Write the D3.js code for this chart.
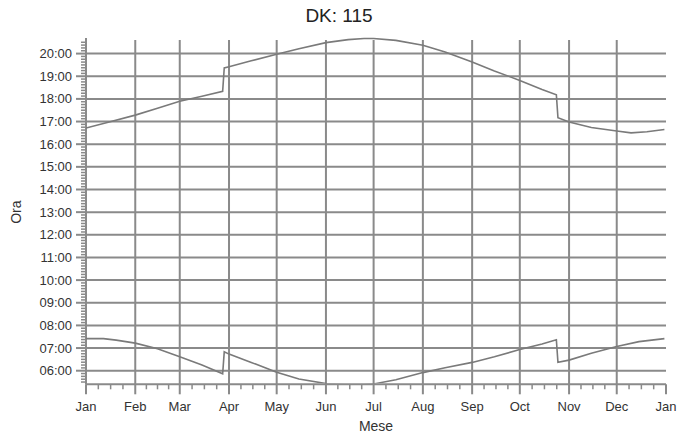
<!DOCTYPE html>
<html><head><meta charset="utf-8">
<script src="https://cdn.jsdelivr.net/npm/d3@7"></script>
<style>
html,body{margin:0;padding:0;background:#fff;}
text{font-family:"Liberation Sans",Arial,sans-serif;}
</style></head>
<body>
<svg id="chart" width="679" height="439"></svg>
<script>
const title = "DK: 115";
const xLabel = "Mese";
const yLabel = "Ora";
const monthLabels = ["Jan","Feb","Mar","Apr","May","Jun","Jul","Aug","Sep","Oct","Nov","Dec","Jan"];
const hourTicks = ["06:00","07:00","08:00","09:00","10:00","11:00","12:00","13:00","14:00","15:00","16:00","17:00","18:00","19:00","20:00"];

const sunsetDates = ["2009-01-01","2009-01-15","2009-02-01","2009-02-15","2009-03-01","2009-03-15","2009-03-28","2009-03-29","2009-04-01","2009-04-15","2009-05-01","2009-05-15","2009-06-01","2009-06-15","2009-06-25","2009-07-01","2009-07-15","2009-08-01","2009-08-15","2009-09-01","2009-09-15","2009-10-01","2009-10-15","2009-10-24","2009-10-25","2009-11-01","2009-11-15","2009-12-01","2009-12-10","2009-12-20","2009-12-31"];
const sunsetTimes = ["16:43","16:58","17:17","17:35","17:54","18:07","18:20","19:22","19:25","19:41","19:58","20:13","20:29","20:37","20:40","20:40","20:35","20:22","20:04","19:38","19:14","18:49","18:25","18:11","17:10","16:59","16:44","16:35","16:30","16:33","16:39"];

const sunriseDates = ["2009-01-01","2009-01-12","2009-01-20","2009-02-01","2009-02-15","2009-03-01","2009-03-15","2009-03-28","2009-03-29","2009-04-01","2009-04-15","2009-05-01","2009-05-15","2009-06-01","2009-06-15","2009-06-25","2009-07-01","2009-07-15","2009-08-01","2009-08-15","2009-09-01","2009-09-15","2009-10-01","2009-10-15","2009-10-24","2009-10-25","2009-11-01","2009-11-15","2009-12-01","2009-12-15","2009-12-31"];
const sunriseTimes = ["07:25","07:25","07:21","07:13","06:58","06:37","06:15","05:52","06:50","06:44","06:22","05:56","05:38","05:26","05:22","05:23","05:25","05:36","05:55","06:08","06:22","06:37","06:56","07:11","07:22","06:22","06:28","06:46","07:04","07:17","07:25"];

const parseDate = d3.timeParse("%Y-%m-%d");
const toHours = s => { const [h,m] = s.split(":").map(Number); return h + m/60; };
const sunset = sunsetDates.map((d,i)=>({date:parseDate(d), v:toHours(sunsetTimes[i])}));
const sunrise = sunriseDates.map((d,i)=>({date:parseDate(d), v:toHours(sunriseTimes[i])}));

const svg = d3.select("#chart");
const L = 86, R = 666, T = 40, B = 384.3;
const start = new Date(2009,0,1), end = new Date(2010,0,1);
const x = d3.scaleTime().domain([start,end]).range([L,R]);
const y = d3.scaleLinear().domain([5.4, 20.6]).range([B,T]);

const grid = "#8a8a8a";
const monthDates = d3.timeMonth.range(start, d3.timeDay.offset(end,1));

svg.append("g").selectAll("line").data(monthDates.slice(0,12)).join("line")
  .attr("x1",d=>x(d)).attr("x2",d=>x(d)).attr("y1",T).attr("y2",B)
  .attr("stroke",grid).attr("stroke-width",2);
svg.append("g").selectAll("line").data(hourTicks.map(toHours)).join("line")
  .attr("x1",L).attr("x2",R).attr("y1",d=>y(d)).attr("y2",d=>y(d))
  .attr("stroke",grid).attr("stroke-width",2);

svg.append("line").attr("x1",L).attr("x2",R).attr("y1",B).attr("y2",B).attr("stroke",grid).attr("stroke-width",2);

const minorX = [];
monthDates.slice(0,12).forEach(m=>{
  const n = d3.timeMonth.offset(m,1);
  for(let k=1;k<4;k++) minorX.push(new Date(+m + (n-m)*k/4));
});
svg.append("g").selectAll("line").data(minorX).join("line")
  .attr("x1",d=>x(d)).attr("x2",d=>x(d)).attr("y1",B).attr("y2",B+5)
  .attr("stroke",grid).attr("stroke-width",1.5);
svg.append("g").selectAll("line").data(monthDates).join("line")
  .attr("x1",d=>x(d)).attr("x2",d=>x(d)).attr("y1",B).attr("y2",B+10)
  .attr("stroke",grid).attr("stroke-width",2);
svg.append("g").selectAll("text").data(monthDates).join("text")
  .attr("x",d=>x(d)).attr("y",411).attr("text-anchor","middle")
  .attr("font-size",13).attr("fill","#333").text((d,i)=>monthLabels[i]);

const minorY = d3.range(5.5, 20.6, 0.125).filter(v=>Math.abs(v-Math.round(v))>1e-6 && v<=20.6);
svg.append("g").selectAll("line").data(minorY).join("line")
  .attr("x1",L-5).attr("x2",L).attr("y1",d=>y(d)).attr("y2",d=>y(d))
  .attr("stroke",grid).attr("stroke-width",1.5);
svg.append("g").selectAll("line").data(hourTicks.map(toHours)).join("line")
  .attr("x1",L-10).attr("x2",L).attr("y1",d=>y(d)).attr("y2",d=>y(d))
  .attr("stroke",grid).attr("stroke-width",2);
svg.append("line").attr("x1",L).attr("x2",L).attr("y1",T-2).attr("y2",B).attr("stroke",grid).attr("stroke-width",2);
svg.append("g").selectAll("text").data(hourTicks).join("text")
  .attr("x",72).attr("y",d=>y(toHours(d))+4.5).attr("text-anchor","end")
  .attr("font-size",13).attr("fill","#333").text(d=>d);

svg.append("clipPath").attr("id","clip").append("rect").attr("x",L).attr("y",0).attr("width",R-L).attr("height",B-1);
const line = d3.line().x(d=>x(d.date)).y(d=>y(d.v)).curve(d3.curveLinear);
const lg = svg.append("g").attr("clip-path","url(#clip)");
[sunset, sunrise].forEach(s=>{
  lg.append("path").datum(s).attr("d",line).attr("fill","none").attr("stroke","#7a7a7a").attr("stroke-width",1.6);
});

svg.append("text").attr("x",339).attr("y",22).attr("text-anchor","middle").attr("font-size",19).attr("fill","#222").text(title);
svg.append("text").attr("x",(L+R)/2).attr("y",431).attr("text-anchor","middle").attr("font-size",14).attr("fill","#333").text(xLabel);
svg.append("text").attr("transform",`translate(21,${(T+B)/2}) rotate(-90)`).attr("text-anchor","middle").attr("font-size",14).attr("fill","#333").text(yLabel);
</script>
</body></html>
